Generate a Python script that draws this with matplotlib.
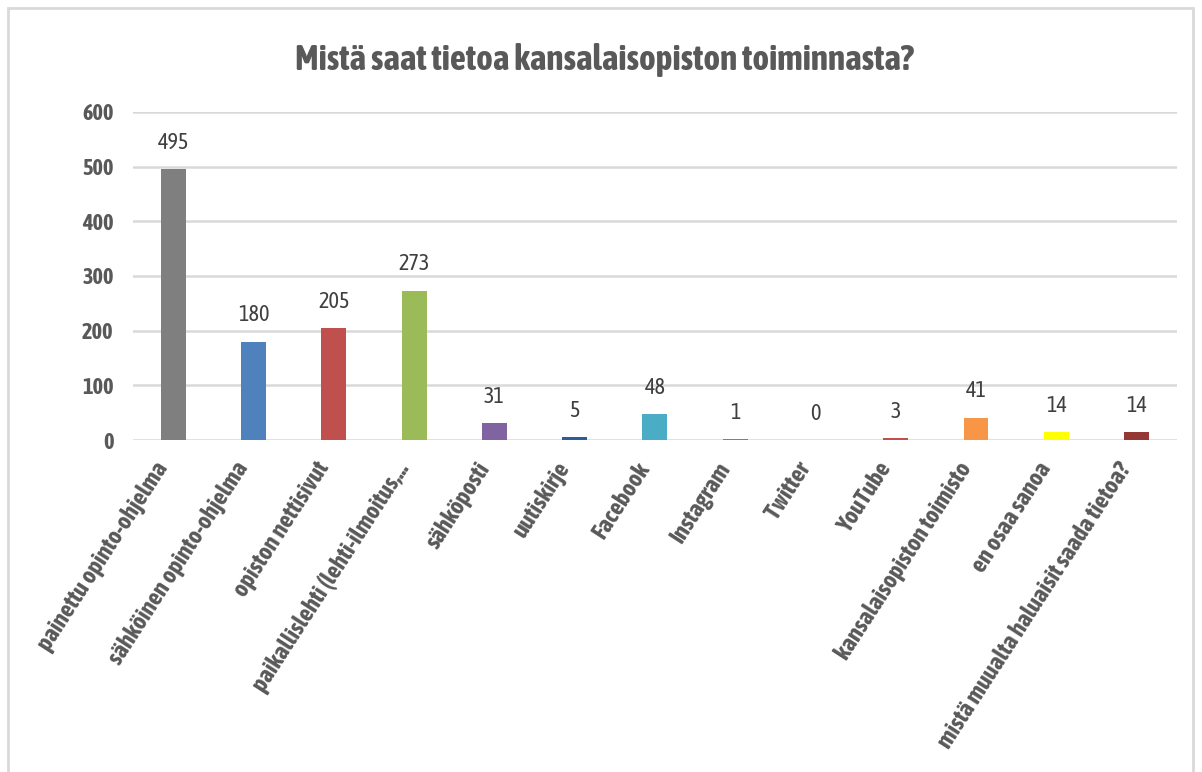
import matplotlib.pyplot as plt
from matplotlib import font_manager
from matplotlib.patches import Rectangle

categories = [
    'painettu opinto-ohjelma', 'sähköinen opinto-ohjelma', 'opiston nettisivut',
    'paikallislehti (lehti-ilmoitus,...', 'sähköposti', 'uutiskirje', 'Facebook',
    'Instagram', 'Twitter', 'YouTube', 'kansalaisopiston toimisto',
    'en osaa sanoa', 'mistä muualta haluaisit saada tietoa?',
]
values = [495, 180, 205, 273, 31, 5, 48, 1, 0, 3, 41, 14, 14]
colors = ['#7f7f7f', '#4f81bd', '#c0504d', '#9bbb59', '#8064a2', '#2c5d9a', '#4bacc6',
          '#7f7f7f', '#4f81bd', '#c0504d', '#f79646', '#ffff00', '#953735']
yticks = [0, 100, 200, 300, 400, 500, 600]

# look for a narrow face with a bold weight (reference has a squeezed Calibri look)
fonts = font_manager.fontManager.ttflist
narrow = sorted({f.name for f in fonts if ('Narrow' in f.name or 'Condensed' in f.name)
                 and 'Light' not in f.name})
with_bold = [n for n in narrow
             if any(f.name == n and (f.weight == 'bold' or (isinstance(f.weight, int) and f.weight >= 600))
                    for f in fonts)]
family = (with_bold or narrow or ['Open Sans'])[0]
plt.rcParams['font.family'] = [family, 'DejaVu Sans']
text_col = '#595959'

fig = plt.figure(figsize=(12.02, 7.72), dpi=100)
ax = fig.add_axes([0.1107, 0.430, 0.8683, 0.425])

x = range(len(categories))
ax.bar(x, values, width=0.31, color=colors, zorder=3)
for xi, v in zip(x, values):
    ax.annotate(str(v), (xi, v), xytext=(0, 11), textcoords='offset points',
                ha='center', va='bottom', fontsize=16, color='#404040')

ax.set_xlim(-0.5, len(categories) - 0.5)
ax.set_ylim(0, 600)
ax.set_yticks(yticks)
ax.set_yticklabels([str(t) for t in yticks], fontsize=16, fontweight='bold', color=text_col)
ax.yaxis.grid(True, color='#d9d9d9', linewidth=1.8, zorder=0)
ax.set_xticks(list(x))
ax.set_xticklabels(categories, rotation=57, ha='right', va='bottom', rotation_mode='anchor',
                   fontsize=17.5, fontweight='bold', color=text_col)
ax.tick_params(axis='both', length=0)
ax.tick_params(axis='x', pad=22)
ax.tick_params(axis='y', pad=14)
for s in ax.spines.values():
    s.set_visible(False)

fig.text(0.503, 0.922, 'Mistä saat tietoa kansalaisopiston toiminnasta?', ha='center', va='center',
         fontsize=25.5, fontweight='bold', color=text_col)

fig.patches.append(Rectangle((8 / 1202, -0.02), 1185 / 1202, 1 - 8 / 772 + 0.02,
                             transform=fig.transFigure, fill=False,
                             edgecolor='#d9d9d9', linewidth=2))

fig.savefig('out.png', dpi=100)
